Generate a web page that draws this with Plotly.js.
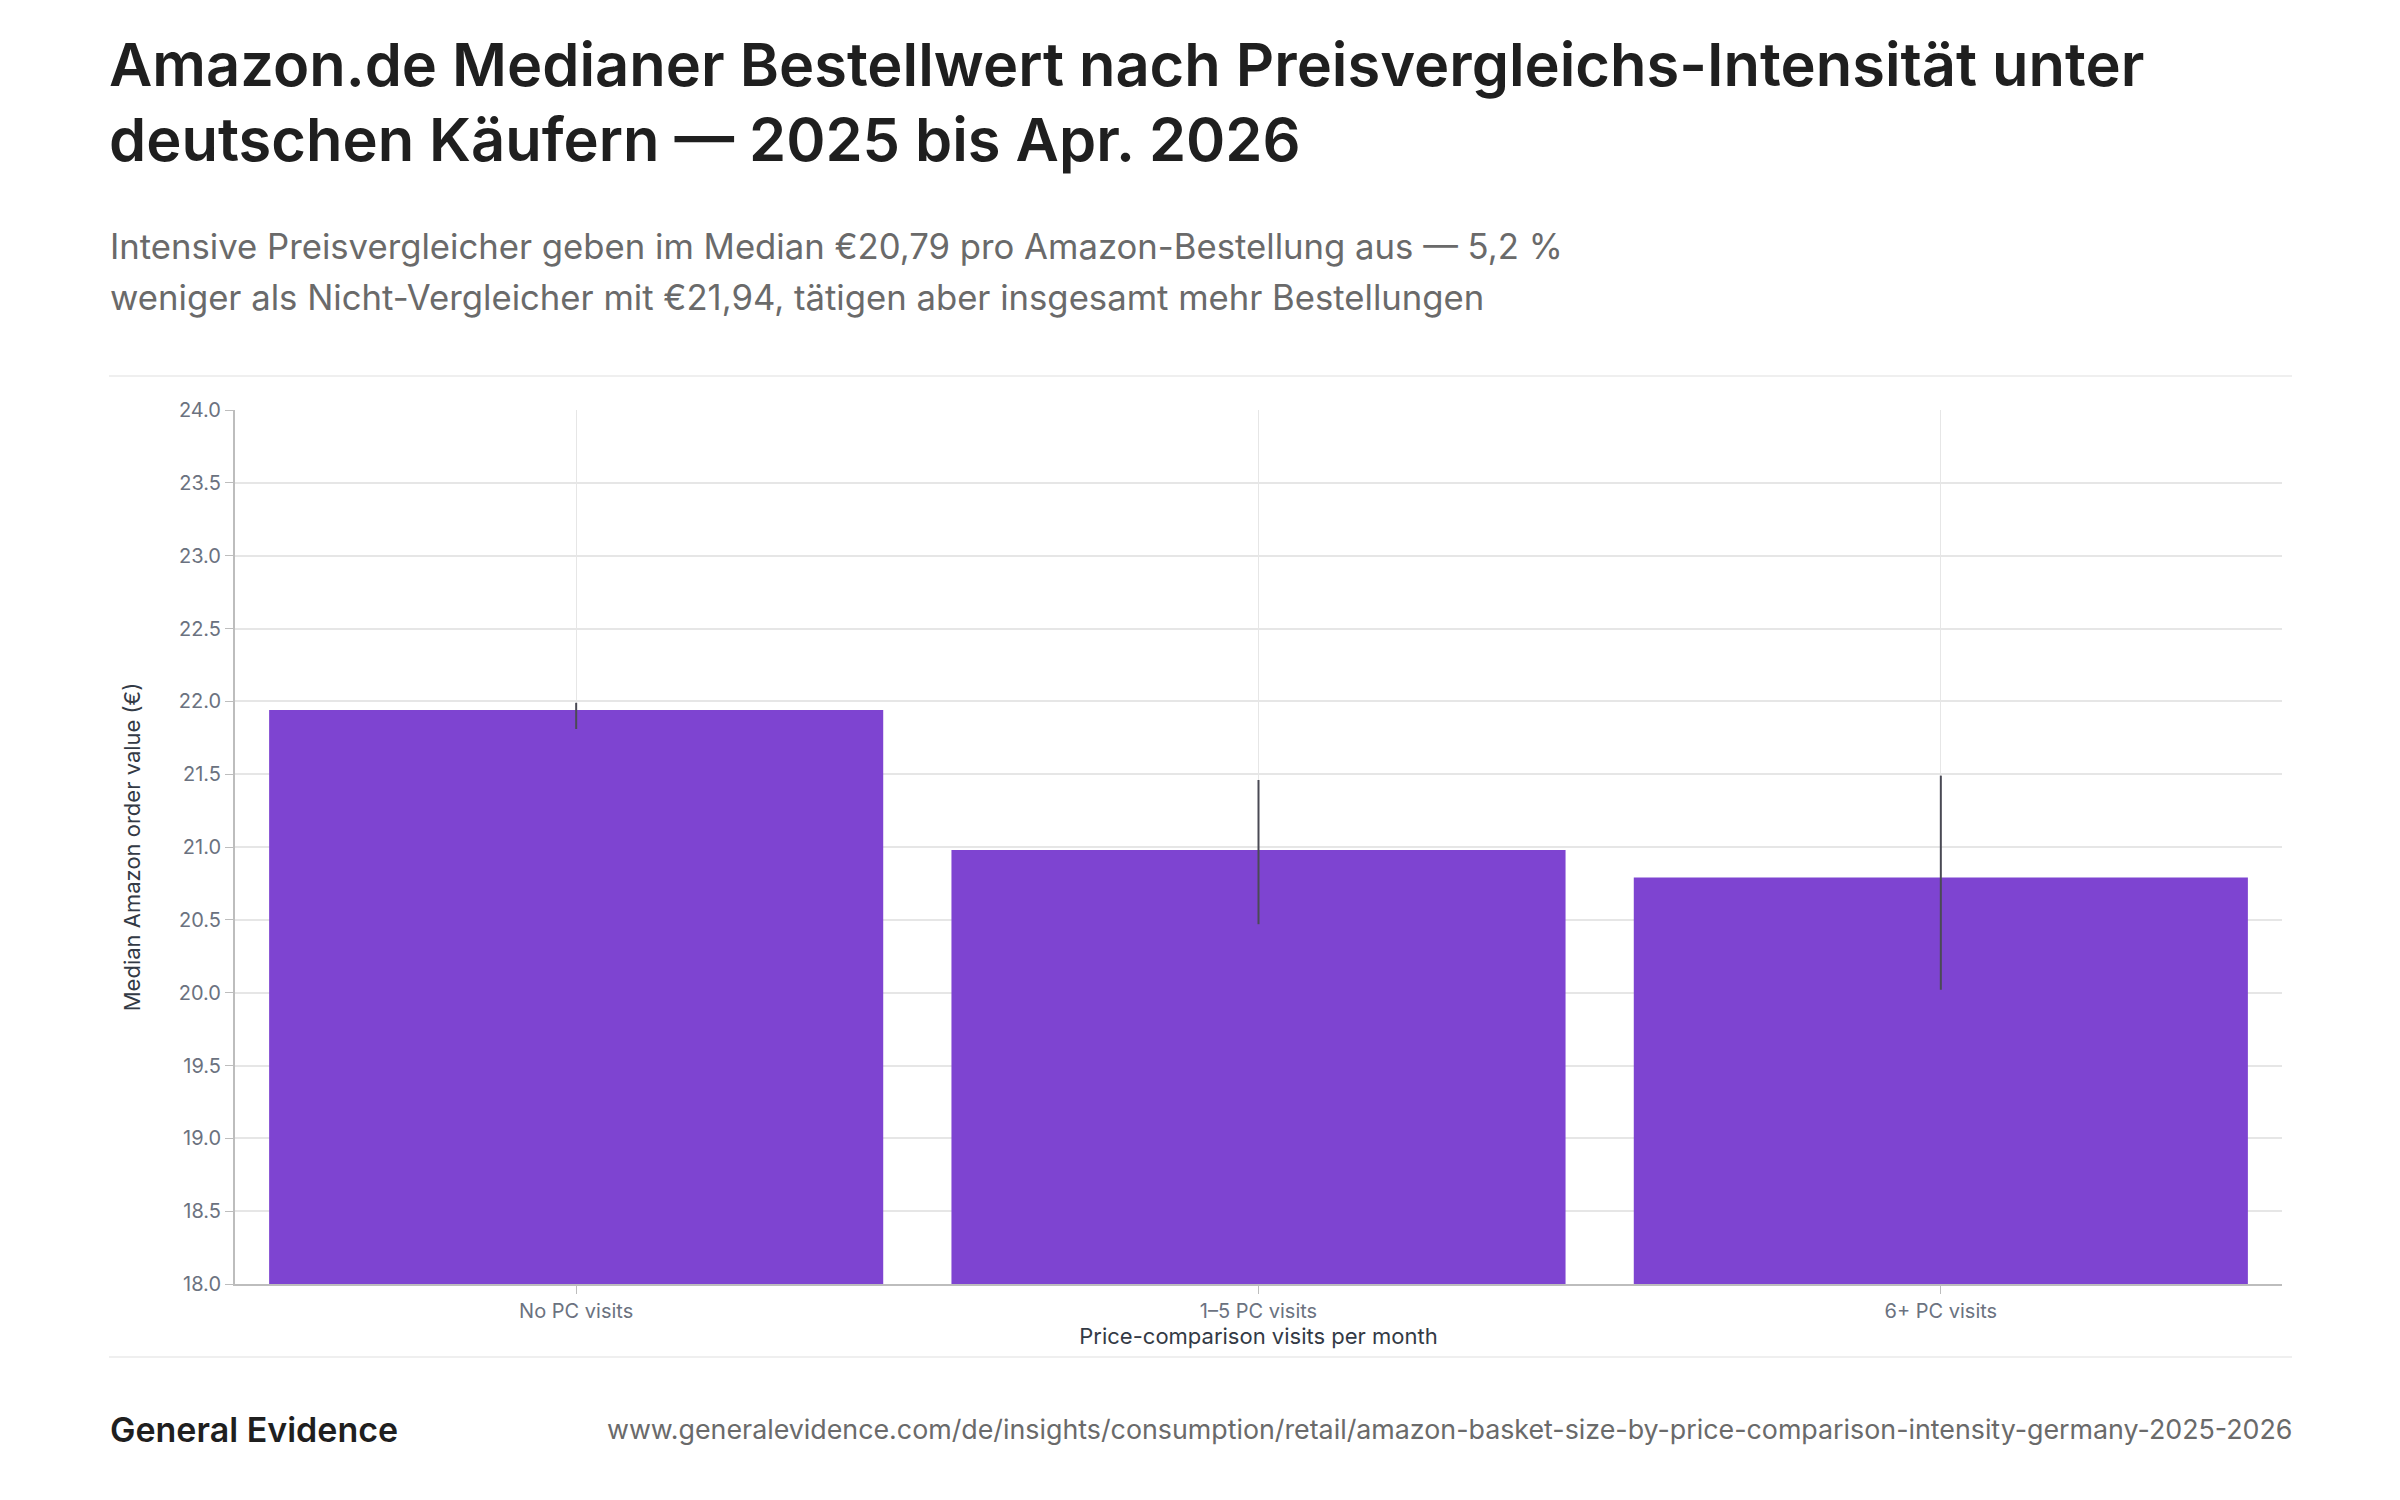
<!DOCTYPE html>
<html>
<head>
<meta charset="utf-8">
<script src="https://cdn.plot.ly/plotly-3.0.1.min.js"></script>
<style>
  body { margin: 0; background: #fff; }
  #chart { width: 2400px; height: 1500px; }
</style>
</head>
<body>
<div id="chart"></div>
<script>
// data
const categories = ['No PC visits', '1–5 PC visits', '6+ PC visits'];
const medianValue = [21.94, 20.98, 20.79];
const errUpper = [0.05, 0.48, 0.70];
const errLower = [0.13, 0.51, 0.77];
const yTicks = [18.0, 18.5, 19.0, 19.5, 20.0, 20.5, 21.0, 21.5, 22.0, 22.5, 23.0, 23.5, 24.0];

const titleLines = ['Amazon.de Medianer Bestellwert nach Preisvergleichs-Intensität unter', 'deutschen Käufern — 2025 bis Apr. 2026'];
const subtitleLines = ['Intensive Preisvergleicher geben im Median €20,79 pro Amazon-Bestellung aus — 5,2 %', 'weniger als Nicht-Vergleicher mit €21,94, tätigen aber insgesamt mehr Bestellungen'];
const brandText = 'General Evidence';
const urlText = 'www.generalevidence.com/de/insights/consumption/retail/amazon-basket-size-by-price-comparison-intensity-germany-2025-2026';

const W = 2400, H = 1500;
const M = { l: 235, r: 118, t: 410, b: 216 };
const plotW = W - M.l - M.r;
const plotH = H - M.t - M.b;
// page pixel -> paper coords
function px(x) { return (x - M.l) / plotW; }
function py(y) { return (H - M.b - y) / plotH; }

const FONT = 'Inter, "DejaVu Sans", sans-serif';

const bars = {
  type: 'bar',
  x: categories,
  y: medianValue,
  marker: { color: '#7e44d1' },
  error_y: {
    type: 'data',
    symmetric: false,
    array: errUpper,
    arrayminus: errLower,
    color: '#4a4a55',
    thickness: 2,
    width: 0
  },
  hoverinfo: 'skip'
};

const annotations = [];
titleLines.forEach((t, i) => annotations.push({
  text: t, xref: 'paper', yref: 'paper', x: px(107), y: py(64 + i * 75), xanchor: 'left', yanchor: 'middle', showarrow: false,
  font: { family: FONT, size: 59.6, weight: 600, color: '#1f1f1f' }
}));
subtitleLines.forEach((t, i) => annotations.push({
  text: t, xref: 'paper', yref: 'paper', x: px(108), y: py(246 + i * 51), xanchor: 'left', yanchor: 'middle', showarrow: false,
  font: { family: FONT, size: 34.7, color: '#6a6a6a' }
}));
annotations.push({ text: brandText, xref: 'paper', yref: 'paper', x: px(108), y: py(1429), xanchor: 'left', yanchor: 'middle', showarrow: false,
  font: { family: FONT, size: 34, weight: 600, color: '#1f1f1f' } });
annotations.push({ text: urlText, xref: 'paper', yref: 'paper', x: px(2294), y: py(1429), xanchor: 'right', yanchor: 'middle', showarrow: false,
  font: { family: FONT, size: 26.8, color: '#6a6a6a' } });

const layout = {
  width: W,
  height: H,
  margin: M,
  paper_bgcolor: '#ffffff',
  plot_bgcolor: '#ffffff',
  showlegend: false,
  bargap: 0.1,
  font: { family: FONT, color: '#333' },
  xaxis: {
    type: 'category',
    showgrid: true,
    gridcolor: '#e6e6e6',
    gridwidth: 1,
    showline: true,
    linecolor: '#bdbdbd',
    linewidth: 2,
    ticks: 'outside',
    ticklen: 8,
    tickcolor: '#bdbdbd',
    tickfont: { size: 20, color: '#6b7280', family: FONT },
    title: { text: 'Price-comparison visits per month', standoff: 6, font: { size: 22, color: '#333a45', family: FONT } }
  },
  yaxis: {
    range: [18, 24],
    tickvals: yTicks,
    ticktext: yTicks.map(v => v.toFixed(1)),
    showgrid: true,
    gridcolor: '#e6e6e6',
    gridwidth: 2,
    zeroline: false,
    showline: true,
    linecolor: '#bdbdbd',
    linewidth: 2,
    ticks: 'outside',
    ticklen: 8,
    tickcolor: '#bdbdbd',
    tickfont: { size: 20, color: '#6b7280', family: FONT },
    title: { text: 'Median Amazon order value (€)', standoff: 32, font: { size: 22, color: '#333a45', family: FONT } }
  },
  shapes: [
    { type: 'line', xref: 'paper', yref: 'paper', x0: px(109), x1: px(2292), y0: py(376), y1: py(376), line: { color: '#efefef', width: 2 } },
    { type: 'line', xref: 'paper', yref: 'paper', x0: px(109), x1: px(2292), y0: py(1357), y1: py(1357), line: { color: '#efefef', width: 2 } }
  ],
  annotations: annotations
};

Plotly.newPlot('chart', [bars], layout, { displayModeBar: false, staticPlot: true });
</script>
</body>
</html>
